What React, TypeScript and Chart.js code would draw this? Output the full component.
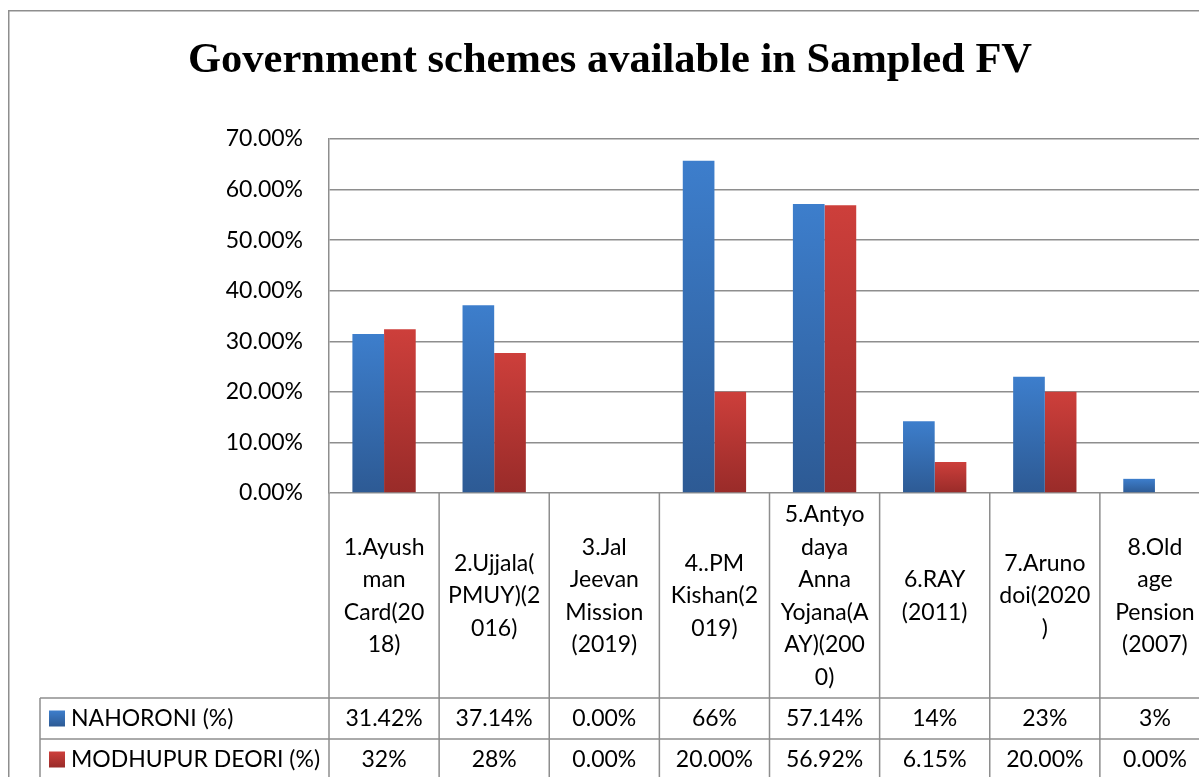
import React, { useEffect, useRef } from "react";
import { Chart, registerables } from "chart.js";

Chart.register(...registerables);

const TITLE = "Government schemes available in Sampled FV";
const categories: string[][] = [
  ["1.Ayush", "man", "Card(20", "18)"],
  ["2.Ujjala(", "PMUY)(2", "016)"],
  ["3.Jal", "Jeevan", "Mission", "(2019)"],
  ["4..PM", "Kishan(2", "019)"],
  ["5.Antyo", "daya", "Anna", "Yojana(A", "AY)(200", "0)"],
  ["6.RAY", "(2011)"],
  ["7.Aruno", "doi(2020", ")"],
  ["8.Old", "age", "Pension", "(2007)"],
];
const seriesNames = ["NAHORONI (%)", "MODHUPUR DEORI (%)"];
const nahoroniValues = [31.42, 37.14, 0, 65.7, 57.14, 14.2, 23, 2.8];
const modhupurValues = [32.4, 27.7, 0, 20, 56.92, 6.15, 20, 0];
const nahoroniLabels = ["31.42%", "37.14%", "0.00%", "66%", "57.14%", "14%", "23%", "3%"];
const modhupurLabels = ["32%", "28%", "0.00%", "20.00%", "56.92%", "6.15%", "20.00%", "0.00%"];
const yTicks = { min: 0, max: 70, step: 10 };

const BLUE = ["#3d7ecc", "#2d5a94"];
const RED = ["#cd3f3b", "#992b29"];
const GRID = "#8e8e8e";
const FONT = "Lato";
const FSIZE = 23;

const CW = 1230;
const CH = 800;

function barGradient(colors: string[]) {
  return (ctx: any) => {
    const chart = ctx.chart;
    const area = chart.chartArea;
    if (!area || ctx.type !== "data" || !chart.scales.y) return colors[0];
    const y = chart.scales.y;
    const top = y.getPixelForValue(ctx.raw);
    const bot = y.getPixelForValue(0);
    if (bot - top < 1) return colors[0];
    const g = chart.ctx.createLinearGradient(0, top, 0, bot);
    g.addColorStop(0, colors[0]);
    g.addColorStop(1, colors[1]);
    return g;
  };
}

const decorPlugin = {
  id: "decor",
  afterDraw(chart: any) {
    const c = chart.ctx;
    const area = chart.chartArea;
    const n = categories.length;
    const catW = (area.right - area.left) / n;
    c.save();
    // outer border
    c.strokeStyle = GRID;
    c.lineWidth = 1.5;
    c.strokeRect(0.75, 0.75, CW - 1.5, CH + 20);

    // title
    c.fillStyle = "#000";
    c.font = `bold 42.5px "Liberation Serif"`;
    c.textAlign = "center";
    c.textBaseline = "alphabetic";
    c.fillText(TITLE, 602, 62);

    // table lines
    c.strokeStyle = GRID;
    c.lineWidth = 1.5;
    const rowTop = [688, 729, 770];
    const tableLeft = 32;
    c.beginPath();
    for (let i = 0; i <= n; i++) {
      const x = area.left + i * catW;
      c.moveTo(x, area.bottom);
      c.lineTo(x, CH);
    }
    rowTop.forEach((y) => {
      c.moveTo(tableLeft, y);
      c.lineTo(area.right, y);
    });
    c.moveTo(tableLeft, rowTop[0]);
    c.lineTo(tableLeft, CH);
    c.stroke();

    // header texts
    c.fillStyle = "#000";
    c.font = `${FSIZE}px ${FONT}`;
    c.textAlign = "center";
    c.textBaseline = "middle";
    const headCenter = 586;
    const lh = 32.5;
    categories.forEach((lines, i) => {
      const cx = area.left + (i + 0.5) * catW;
      const y0 = headCenter - ((lines.length - 1) * lh) / 2;
      lines.forEach((t, j) => c.fillText(t, cx, y0 + j * lh));
    });

    // rows
    const rows = [nahoroniLabels, modhupurLabels];
    const colors = [BLUE, RED];
    rows.forEach((labels, r) => {
      const cy = (rowTop[r] + rowTop[r + 1]) / 2;
      c.textAlign = "center";
      labels.forEach((t, i) => {
        const cx = area.left + (i + 0.5) * catW;
        c.fillText(t, cx, cy);
      });
      const sy = cy - 8;
      const g = c.createLinearGradient(0, sy, 0, sy + 16);
      g.addColorStop(0, colors[r][0]);
      g.addColorStop(1, colors[r][1]);
      c.fillStyle = g;
      c.fillRect(41, sy, 16, 16);
      c.fillStyle = "#000";
      c.textAlign = "left";
      c.fillText(seriesNames[r], 63, cy);
    });
    c.restore();
  },
};

export default function App() {
  const ref = useRef<HTMLCanvasElement | null>(null);
  useEffect(() => {
    if (!ref.current) return;
    const chart = new Chart(ref.current, {
      type: "bar",
      data: {
        labels: categories.map((l) => l.join(" ")),
        datasets: [
          {
            label: seriesNames[0],
            data: nahoroniValues,
            backgroundColor: barGradient(BLUE) as any,
            categoryPercentage: 0.575,
            barPercentage: 1,
          },
          {
            label: seriesNames[1],
            data: modhupurValues,
            backgroundColor: barGradient(RED) as any,
            categoryPercentage: 0.575,
            barPercentage: 1,
          },
        ],
      },
      options: {
        responsive: false,
        animation: false,
        devicePixelRatio: 1,
        layout: { padding: { top: 129, bottom: CH - 483, right: CW - 1202, left: 0 } },
        plugins: { legend: { display: false }, tooltip: { enabled: false }, title: { display: false } },
        scales: {
          x: { display: false },
          y: {
            min: yTicks.min,
            max: yTicks.max,
            afterFit: (s: any) => {
              s.width = 321;
            },
            ticks: {
              stepSize: yTicks.step,
              padding: 26,
              color: "#000",
              font: { family: FONT, size: FSIZE },
              callback: (v: any) => Number(v).toFixed(2) + "%",
            },
            grid: { color: GRID, lineWidth: 1.5, drawTicks: false },
            border: { display: true, color: GRID, width: 1.5 },
          },
        },
      },
      plugins: [decorPlugin],
    });
    return () => chart.destroy();
  }, []);
  return (
    <div style={{ position: "fixed", left: 0, top: 0, width: 1199, height: 777, overflow: "hidden", background: "#fff" }}>
      <canvas ref={ref} width={CW} height={CH} style={{ position: "absolute", left: 8, top: 10, width: CW, height: CH }} />
    </div>
  );
}
